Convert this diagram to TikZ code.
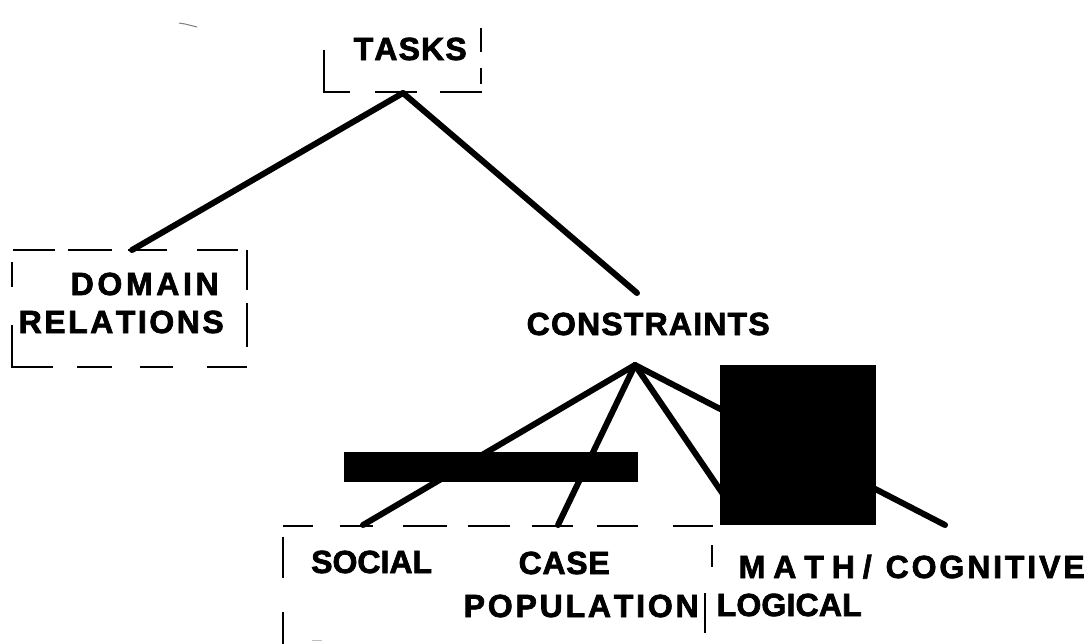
\documentclass[tikz,border=0pt]{standalone}
\usepackage{fontspec}
\setmainfont{Liberation Sans}[BoldFeatures={FakeBold=2.2}]
\newcommand{\spreadtxt}[2]{\makebox[#1pt][s]{#2}}
\tikzset{
  lbl/.style={inner sep=0pt, anchor=base west, font=\fontsize{32}{32}\selectfont\bfseries},
  link/.style={line width=6pt, line cap=round},
  dsh/.style={line width=2.6pt, line cap=butt},
  blk/.style={fill=black, draw=none}
}
\begin{document}
\begin{tikzpicture}[x=1pt,y=-1pt]
\useasboundingbox[fill=white] (0,0) rectangle (1092,643);

% labels
\node[lbl] (tasks) at (353.5,60) {\spreadtxt{113}{T\hfil A\hfil S\hfil K\hfil S}};
\node[lbl] (domain) at (70.5,295) {\spreadtxt{148}{D\hfil O\hfil M\hfil A\hfil I\hfil N}};
\node[lbl] (relations) at (18.5,333) {\spreadtxt{205}{R\hfil E\hfil L\hfil A\hfil T\hfil I\hfil O\hfil N\hfil S}};
\node[lbl] (constraints) at (526.5,335) {\spreadtxt{243}{C\hfil O\hfil N\hfil S\hfil T\hfil R\hfil A\hfil I\hfil N\hfil T\hfil S}};
\node[lbl] (social) at (311,573) {\spreadtxt{119}{S\hfil O\hfil C\hfil I\hfil A\hfil L}};
\node[lbl] (case) at (518.5,574) {\spreadtxt{91}{C\hfil A\hfil S\hfil E}};
\node[lbl] (population) at (463.5,617) {\spreadtxt{235}{P\hfil O\hfil P\hfil U\hfil L\hfil A\hfil T\hfil I\hfil O\hfil N}};
\node[lbl] (math) at (738.5,578) {\spreadtxt{133}{M\hfil A\hfil T\hfil H\hfil /}};
\node[lbl] (logical) at (716.5,616) {\spreadtxt{145}{L\hfil O\hfil G\hfil I\hfil C\hfil A\hfil L}};
\node[lbl] (cognitive) at (885.5,578) {\spreadtxt{199}{C\hfil O\hfil G\hfil N\hfil I\hfil T\hfil I\hfil V\hfil E}};

% connector end points
\coordinate (tasksapex) at (403,93);
\coordinate (domtop) at (132,250);
\coordinate (contop) at (637,293);
\coordinate (conapex) at (635,365);
\coordinate (socialend) at (363,525);
\coordinate (caseend) at (558,525);
\coordinate (mathend) at (742,522);
\coordinate (cogend) at (945,525);

% connectors
\draw[link] (tasksapex) -- (domtop);
\draw[link] (tasksapex) -- (contop);
\draw[link] (conapex) -- (socialend);
\draw[link] (conapex) -- (caseend);
\draw[link] (conapex) -- (mathend);
\draw[link] (conapex) -- (cogend);

% TASKS dashed frame (open at top)
\draw[dsh] (324,50) -- (324,92) -- (350,92);
\draw[dsh] (375,92) -- (417,92);
\draw[dsh] (440,92) -- (482,92);
\draw[dsh] (481,28) -- (481,52);
\draw[dsh] (481,68) -- (481,84);

% DOMAIN RELATIONS dashed frame
\draw[dsh] (13,250) -- (55,250);
\draw[dsh] (68,250) -- (112,250);
\draw[dsh] (128,250) -- (167,250);
\draw[dsh] (197,250) -- (238,250);
\draw[dsh] (247,250) -- (247,290);
\draw[dsh] (247,303) -- (247,347);
\draw[dsh] (12,262) -- (12,287);
\draw[dsh] (12,325) -- (12,367) -- (53,367);
\draw[dsh] (77,367) -- (112,367);
\draw[dsh] (140,367) -- (173,367);
\draw[dsh] (207,367) -- (247,367);

% lower dashed frame
\draw[dsh] (283,526) -- (313,526);
\draw[dsh] (340,526) -- (373,526);
\draw[dsh] (403,526) -- (447,526);
\draw[dsh] (468,526) -- (510,526);
\draw[dsh] (532,526) -- (573,526);
\draw[dsh] (597,526) -- (638,526);
\draw[dsh] (673,526) -- (713,526);
\draw[dsh] (283,537) -- (283,578);
\draw[dsh] (283,612) -- (283,645);
\draw[dsh] (712,545) -- (712,567);
\draw[dsh] (705,593) -- (705,633);

% black blocks
\fill[blk] (720,365) rectangle (876,525);
\fill[blk] (344,452) rectangle (638,482);

% scan specks
\draw[gray, line width=1pt] (179,23) -- (185,24) -- (197,27);
\draw[gray!50, line width=1pt] (312,640) -- (322,640);
\end{tikzpicture}
\end{document}
